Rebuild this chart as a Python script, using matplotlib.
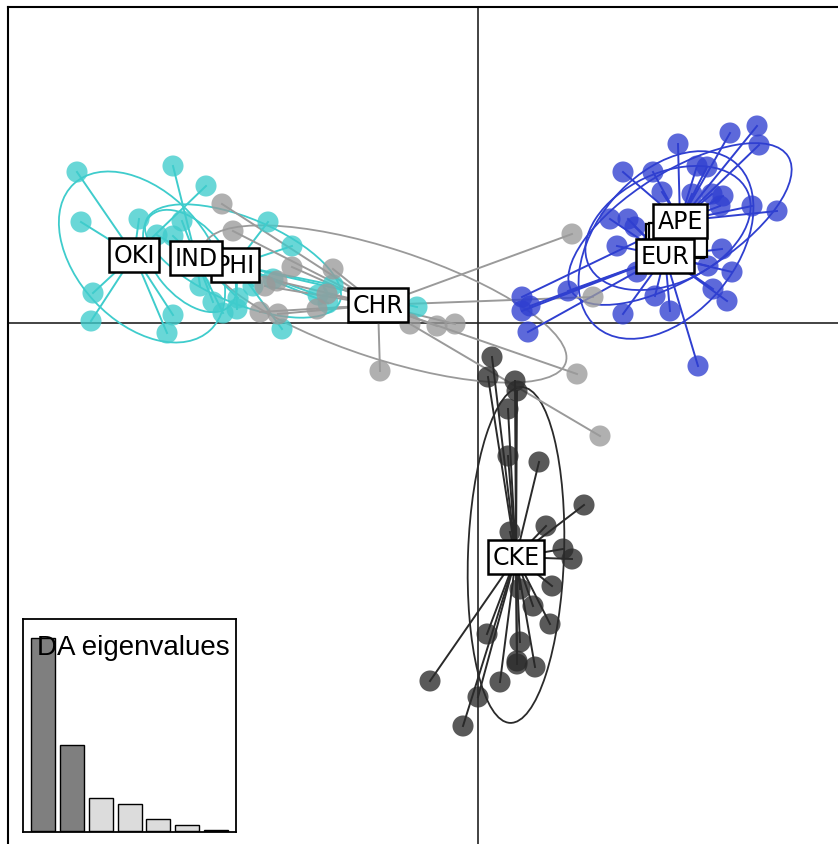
import numpy as np
import matplotlib
matplotlib.use("Agg")
import matplotlib.pyplot as plt
from matplotlib.patches import Ellipse, Rectangle

# discriminant function scores (LD1, LD2) per individual, grouped by population
groups = ["OKI", "IND", "PHI", "CHR", "APE", "EUR", "CKE"]

colours = {
    "OKI": "#3fcccc", "IND": "#3fcccc", "PHI": "#3fcccc",
    "CHR": "#9a9a9a",
    "APE": "#2f3fd0", "EUR": "#2f3fd0",
    "CKE": "#2a2a2a",
}

oki_x = [-40.1, -39.7, -38.5, -38.7, -31.1, -30.5, -33.9, -27.2]
oki_y = [15.1, 10.1, 3.0, 0.2, -1.0, 0.8, 10.4, 13.7]

ind_x = [-30.5, -29.6, -32.1, -30.5, -27.8, -26.5, -24.0, -25.5]
ind_y = [15.7, 10.2, 8.8, 8.7, 3.7, 2.1, 2.5, 1.0]

phi_x = [-21.0, -18.6, -20.5, -22.5, -24.1, -19.6, -14.5, -16.0, -15.0, -6.1]
phi_y = [10.1, 7.7, 4.4, 3.7, 1.4, -0.6, 3.8, 2.8, 2.0, 1.6]

chr_x = [-25.6, -24.5, -18.6, -14.5, -20.1, -21.3, -21.8, -20.0, -16.1, -15.1,
         -6.8, -4.1, -2.3, -9.8, 9.9, 12.2, 9.4, 11.5]
chr_y = [11.9, 9.2, 5.6, 5.4, 4.2, 3.7, 1.1, 0.9, 1.4, 2.9,
         -0.1, -0.3, -0.1, -4.8, -5.1, -11.3, 8.9, 2.6]

ape_x = [20.0, 25.2, 27.9, 28.1, 21.9, 22.9, 21.4, 23.4, 24.5, 27.4, 29.9,
         14.5, 17.5, 18.4, 4.4, 24.2]
ape_y = [17.9, 19.0, 19.7, 17.8, 15.7, 15.6, 12.9, 12.9, 12.7, 11.7, 11.2,
         15.1, 15.1, 13.1, 2.6, 11.7]

eur_x = [13.2, 15.0, 15.7, 13.9, 15.9, 17.7, 19.2, 14.5, 24.9, 25.4, 24.4,
         23.0, 23.5, 22.0, 9.0, 5.2, 4.4, 5.0]
eur_y = [10.4, 10.4, 9.6, 7.7, 5.1, 2.7, 1.2, 0.9, 2.2, 5.1, 7.4,
         5.7, 3.4, -4.3, 3.2, 1.7, 1.2, -0.9]

cke_x = [1.4, 1.0, 3.7, 3.9, 3.0, 3.0, 6.1, 10.6, 6.8, 3.2, 8.5, 9.4, 7.4,
         4.2, 5.5, 7.2, 0.9, 4.2, 3.9, 3.9, 5.7, 2.2, -4.8, 0.0, -1.5]
cke_y = [-3.4, -5.4, -5.8, -6.8, -8.6, -13.3, -13.9, -18.2, -20.3, -20.9,
         -22.6, -23.6, -26.3, -26.6, -28.3, -30.1, -31.1, -31.9, -33.8,
         -34.1, -34.4, -35.9, -35.8, -37.4, -40.3]

points = {
    "OKI": (oki_x, oki_y), "IND": (ind_x, ind_y), "PHI": (phi_x, phi_y),
    "CHR": (chr_x, chr_y), "APE": (ape_x, ape_y), "EUR": (eur_x, eur_y),
    "CKE": (cke_x, cke_y),
}

# group centroids (label positions)
centroids = {
    "OKI": (-34.4, 6.8), "IND": (-28.2, 6.5), "PHI": (-24.3, 5.8),
    "CHR": (-10.0, 1.8), "APE": (20.2, 10.2), "EUR": (18.7, 6.7),
    "CKE": (3.8, -23.4),
}

# inertia ellipses: centre x, centre y, major, minor, angle
ellipses = {
    "OKI": [(-33.6, 6.6, 20.0, 13.0, -47)],
    "IND": [(-28.8, 6.2, 12.0, 7.0, -50)],
    "PHI": [(-23.5, 6.2, 21.0, 8.5, -23)],
    "CHR": [(-9.3, 1.9, 38.0, 11.0, -18)],
    "APE": [(20.2, 9.9, 25.5, 10.5, 32), (19.0, 9.5, 17.5, 11.0, 25)],
    "EUR": [(18.8, 7.8, 21.5, 14.0, 50)],
    "CKE": [(3.8, -23.2, 33.6, 9.6, 88)],
}

# labels of two further groups sitting behind APE / EUR
hidden_boxes = [(19.7, 8.2), (20.0, 8.3)]

eig_vals = [57.7, 25.7, 9.8, 8.2, 3.5, 1.9, 0.4]
n_retained = 2

fig = plt.figure(figsize=(8.38, 8.45), dpi=100)
ax = fig.add_axes([8 / 838, -7 / 845, 837 / 838, 844 / 845])
ax.set_xlim(-47.0, 36.7)
ax.set_ylim(-52.8, 31.6)

ax.axhline(0, color="#222222", lw=1.2, zorder=1)
ax.axvline(0, color="#222222", lw=1.2, zorder=1)

for g in groups:
    c = colours[g]
    for (ex, ey, w, h, a) in ellipses[g]:
        ax.add_patch(Ellipse((ex, ey), w, h, angle=a, fill=False,
                             edgecolor=c, lw=1.3, zorder=2))

for g in groups:
    c = colours[g]
    cx, cy = centroids[g]
    xs, ys = points[g]
    for x, y in zip(xs, ys):
        ax.plot([cx, x], [cy, y], color=c, lw=1.4, zorder=3)
    ax.scatter(xs, ys, s=230, color=c, alpha=0.78, edgecolors="none",
               zorder=4)

for hx, hy in hidden_boxes:
    ax.add_patch(Rectangle((hx - 2.9, hy - 1.7), 5.8, 3.4, facecolor="white",
                           edgecolor="black", lw=1.6, zorder=5))

label_order = ["PHI", "OKI", "IND", "CHR", "EUR", "APE", "CKE"]
for g in label_order:
    cx, cy = centroids[g]
    ax.text(cx, cy, g, ha="center", va="center", fontsize=17,
            family="DejaVu Sans", zorder=6,
            bbox=dict(boxstyle="square,pad=0.2", facecolor="white",
                      edgecolor="black", lw=1.8))

ax.set_xticks([])
ax.set_yticks([])
for sp in ax.spines.values():
    sp.set_linewidth(1.5)

# eigenvalue inset
ins = fig.add_axes([22.7 / 838, 12 / 845, 213.3 / 838, 213 / 845])
bx = 0.7 + 1.2 * np.arange(len(eig_vals))
bar_cols = ["#7f7f7f" if i < n_retained else "#dcdcdc"
            for i in range(len(eig_vals))]
ins.bar(bx, eig_vals, width=1.0, color=bar_cols, edgecolor="black", lw=1.0)
ins.set_xlim(-0.145, 8.73)
ins.set_ylim(-0.005 * max(eig_vals), 1.10 * max(eig_vals))
ins.set_xticks([])
ins.set_yticks([])
for sp in ins.spines.values():
    sp.set_linewidth(1.3)
ins.text(0.52, 0.835, "DA eigenvalues", transform=ins.transAxes,
         ha="center", va="baseline", fontsize=20, family="Liberation Sans")

fig.savefig("out.png", dpi=100)
